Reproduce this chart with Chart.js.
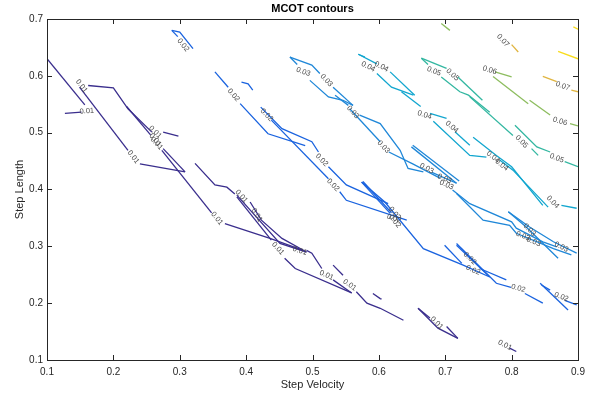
<!DOCTYPE html>
<html>
<head>
<meta charset="utf-8">
<script src="https://cdn.jsdelivr.net/npm/chart.js@4"></script>
<style>
html, body { margin: 0; padding: 0; background: #fff; }
#wrap { width: 602px; height: 403px; }
</style>
</head>
<body>
<div id="wrap"><canvas id="mcot"></canvas></div>
<script>
const xTicks = [0.1, 0.2, 0.3, 0.4, 0.5, 0.6, 0.7, 0.8, 0.9];
const yTicks = [0.1, 0.2, 0.3, 0.4, 0.5, 0.6, 0.7];
const levels = ["0.01", "0.02", "0.03", "0.04", "0.05", "0.06", "0.07", "0.08"];
const levelColors = ["#3a2e8d", "#1a63df", "#1f87d8", "#12a6cf", "#33b7a1", "#8dbd5f", "#e0b540", "#f8dc1c"];

// contour pieces per level, [velocity, length] points
const lines001 = [
    [[0.100, 0.630], [0.157, 0.549]],
    [[0.127, 0.534], [0.152, 0.536]],
    [[0.149, 0.580], [0.222, 0.469]],
    [[0.240, 0.445], [0.308, 0.431]],
    [[0.162, 0.583], [0.200, 0.579], [0.222, 0.542], [0.258, 0.501]],
    [[0.220, 0.546], [0.256, 0.496]],
    [[0.275, 0.501], [0.298, 0.494]],
    [[0.275, 0.472], [0.308, 0.431]],
    [[0.273, 0.469], [0.348, 0.359]],
    [[0.368, 0.340], [0.436, 0.314], [0.486, 0.293]],
    [[0.323, 0.446], [0.353, 0.408], [0.371, 0.404], [0.383, 0.392]],
    [[0.406, 0.378], [0.423, 0.346], [0.454, 0.314], [0.491, 0.290]],
    [[0.386, 0.387], [0.438, 0.311]],
    [[0.386, 0.390], [0.451, 0.305], [0.491, 0.290]],
    [[0.491, 0.293], [0.499, 0.288], [0.514, 0.261]],
    [[0.531, 0.241], [0.559, 0.218]],
    [[0.458, 0.279], [0.474, 0.261], [0.559, 0.218]],
    [[0.531, 0.267], [0.546, 0.249]],
    [[0.566, 0.220], [0.582, 0.200], [0.602, 0.191], [0.637, 0.170]],
    [[0.591, 0.217], [0.602, 0.208], [0.604, 0.207]],
    [[0.659, 0.191], [0.689, 0.156], [0.719, 0.138]],
    [[0.659, 0.191], [0.677, 0.174]],
    [[0.702, 0.159], [0.719, 0.138]],
    [[0.797, 0.121], [0.807, 0.115]]
];
const lines002 = [
    [[0.288, 0.680], [0.300, 0.677], [0.320, 0.648]],
    [[0.288, 0.680], [0.297, 0.669]],
    [[0.353, 0.607], [0.373, 0.580]],
    [[0.391, 0.551], [0.433, 0.498], [0.489, 0.477]],
    [[0.393, 0.589], [0.403, 0.586], [0.410, 0.575]],
    [[0.422, 0.545], [0.454, 0.507], [0.499, 0.484], [0.509, 0.466]],
    [[0.524, 0.440], [0.551, 0.408], [0.614, 0.375]],
    [[0.438, 0.522], [0.524, 0.419]],
    [[0.541, 0.396], [0.551, 0.381], [0.642, 0.346]],
    [[0.574, 0.413], [0.617, 0.358]],
    [[0.576, 0.414], [0.619, 0.359]],
    [[0.574, 0.413], [0.609, 0.378], [0.667, 0.296], [0.727, 0.267], [0.767, 0.246]],
    [[0.699, 0.302], [0.725, 0.270]],
    [[0.717, 0.302], [0.767, 0.246]],
    [[0.717, 0.305], [0.777, 0.235], [0.799, 0.228]],
    [[0.820, 0.217], [0.847, 0.200]],
    [[0.752, 0.261], [0.792, 0.241]],
    [[0.843, 0.235], [0.885, 0.188]],
    [[0.845, 0.232], [0.858, 0.223]],
    [[0.880, 0.205], [0.898, 0.197]]
];
const lines003 = [
    [[0.466, 0.633], [0.499, 0.619], [0.511, 0.604]],
    [[0.531, 0.580], [0.561, 0.548]],
    [[0.466, 0.633], [0.477, 0.620]],
    [[0.496, 0.592], [0.524, 0.563], [0.546, 0.557], [0.561, 0.548]],
    [[0.534, 0.566], [0.554, 0.548]],
    [[0.571, 0.531], [0.602, 0.516], [0.632, 0.469], [0.644, 0.437], [0.667, 0.431]],
    [[0.680, 0.430], [0.717, 0.411]],
    [[0.556, 0.542], [0.602, 0.484]],
    [[0.615, 0.466], [0.651, 0.445], [0.692, 0.420]],
    [[0.649, 0.475], [0.717, 0.411]],
    [[0.651, 0.478], [0.721, 0.415]],
    [[0.711, 0.399], [0.737, 0.375], [0.800, 0.343], [0.807, 0.332], [0.847, 0.308], [0.868, 0.299]],
    [[0.717, 0.393], [0.757, 0.346], [0.797, 0.337], [0.807, 0.323], [0.863, 0.296], [0.890, 0.285]],
    [[0.795, 0.361], [0.822, 0.334], [0.870, 0.279]],
    [[0.795, 0.361], [0.827, 0.334], [0.863, 0.308], [0.898, 0.288]]
];
const lines004 = [
    [[0.569, 0.638], [0.597, 0.621]],
    [[0.617, 0.607], [0.654, 0.566]],
    [[0.569, 0.638], [0.579, 0.633]],
    [[0.597, 0.604], [0.619, 0.580], [0.652, 0.566]],
    [[0.634, 0.572], [0.663, 0.546]],
    [[0.677, 0.534], [0.702, 0.525]],
    [[0.682, 0.520], [0.737, 0.460], [0.762, 0.457]],
    [[0.715, 0.501], [0.737, 0.478]],
    [[0.742, 0.492], [0.777, 0.460], [0.800, 0.440], [0.847, 0.372]],
    [[0.782, 0.452], [0.802, 0.434], [0.855, 0.369]],
    [[0.875, 0.372], [0.898, 0.367]]
];
const lines005 = [
    [[0.664, 0.631], [0.702, 0.613]],
    [[0.719, 0.598], [0.756, 0.557]],
    [[0.664, 0.631], [0.674, 0.620]],
    [[0.694, 0.598], [0.722, 0.572], [0.735, 0.566], [0.767, 0.536]],
    [[0.737, 0.563], [0.802, 0.495]],
    [[0.830, 0.472], [0.840, 0.460]],
    [[0.805, 0.513], [0.838, 0.475], [0.858, 0.466]],
    [[0.880, 0.449], [0.900, 0.440]]
];
const lines006 = [
    [[0.694, 0.692], [0.707, 0.680]],
    [[0.775, 0.607], [0.800, 0.598]],
    [[0.772, 0.599], [0.825, 0.551]],
    [[0.827, 0.557], [0.858, 0.531]],
    [[0.888, 0.516], [0.900, 0.512]]
];
const lines007 = [
    [[0.800, 0.655], [0.810, 0.642]],
    [[0.847, 0.599], [0.868, 0.590]],
    [[0.890, 0.575], [0.900, 0.572]]
];
const lines008 = [
    [[0.893, 0.686], [0.900, 0.682]],
    [[0.870, 0.643], [0.900, 0.630]]
];
const levelLines = [lines001, lines002, lines003, lines004, lines005, lines006, lines007, lines008];

// inline labels: [velocity, length, level index]
const contourLabels = [
    [0.160, 0.538, 0], [0.152, 0.582, 0], [0.230, 0.457, 0], [0.263, 0.501, 0], [0.263, 0.487, 0],
    [0.265, 0.481, 0], [0.356, 0.349, 0], [0.393, 0.388, 0], [0.416, 0.355, 0], [0.448, 0.296, 0],
    [0.481, 0.292, 0], [0.521, 0.249, 0], [0.556, 0.232, 0], [0.687, 0.165, 0], [0.790, 0.126, 0],
    [0.305, 0.654, 1], [0.381, 0.566, 1], [0.431, 0.531, 1], [0.514, 0.452, 1], [0.531, 0.408, 1],
    [0.624, 0.358, 1], [0.623, 0.349, 1], [0.624, 0.344, 1], [0.737, 0.279, 1], [0.742, 0.258, 1],
    [0.810, 0.226, 1], [0.875, 0.211, 1],
    [0.486, 0.607, 2], [0.521, 0.592, 2], [0.561, 0.536, 2], [0.607, 0.475, 2], [0.672, 0.437, 2],
    [0.699, 0.419, 2], [0.702, 0.408, 2], [0.827, 0.329, 2], [0.817, 0.318, 2], [0.833, 0.308, 2],
    [0.875, 0.299, 2],
    [0.584, 0.616, 3], [0.604, 0.616, 3], [0.669, 0.531, 3], [0.710, 0.510, 3], [0.772, 0.457, 3],
    [0.785, 0.443, 3], [0.862, 0.378, 3],
    [0.683, 0.608, 4], [0.711, 0.602, 4], [0.815, 0.484, 4], [0.868, 0.455, 4],
    [0.767, 0.610, 5], [0.873, 0.520, 5],
    [0.787, 0.662, 6], [0.877, 0.582, 6]
];

const fontFamily = '"Liberation Sans", Arial, Helvetica, sans-serif';
const axisColor = "#262626";

var datasets = [];
levelLines.forEach(function (pieces, i) {
    for (piece of pieces) {
        datasets.push({
            data: piece.map(p => ({ x: p[0], y: p[1] })),
            showLine: true,
            borderColor: levelColors[i],
            borderWidth: 1.3,
            pointRadius: 0,
            tension: 0,
            fill: false,
        });
    }
});

// box, inward ticks, titles and contour labels
const decor = {
    id: "decor",
    afterDatasetsDraw(chart) {
        const ctx = chart.ctx;
        const xs = chart.scales.x, ys = chart.scales.y;

        ctx.save();
        ctx.font = "7.5px " + fontFamily;
        ctx.fillStyle = "#4a4a4a";
        ctx.textAlign = "center";
        ctx.textBaseline = "middle";
        for (lab of contourLabels) {
            const px = xs.getPixelForValue(lab[0]);
            const py = ys.getPixelForValue(lab[1]);
            // angle from the closest piece of the same level
            let best = Infinity, ang = 0;
            for (piece of levelLines[lab[2]]) {
                for (let k = 0; k < piece.length - 1; k++) {
                    const ax = xs.getPixelForValue(piece[k][0]), ay = ys.getPixelForValue(piece[k][1]);
                    const bx = xs.getPixelForValue(piece[k + 1][0]), by = ys.getPixelForValue(piece[k + 1][1]);
                    const dx = bx - ax, dy = by - ay;
                    const len2 = dx * dx + dy * dy || 1;
                    let t = ((px - ax) * dx + (py - ay) * dy) / len2;
                    t = Math.max(0, Math.min(1, t));
                    const d = Math.hypot(ax + t * dx - px, ay + t * dy - py);
                    if (d < best) { best = d; ang = Math.atan2(dy, dx); }
                }
            }
            if (ang > Math.PI / 2) ang -= Math.PI;
            if (ang < -Math.PI / 2) ang += Math.PI;
            ctx.save();
            ctx.translate(px, py);
            ctx.rotate(ang);
            ctx.fillText(levels[lab[2]], 0, 0);
            ctx.restore();
        }
        ctx.restore();
    },
    afterDraw(chart) {
        const ctx = chart.ctx;
        const a = chart.chartArea;
        const xs = chart.scales.x, ys = chart.scales.y;
        ctx.save();
        ctx.strokeStyle = axisColor;
        ctx.lineWidth = 1;
        ctx.strokeRect(Math.round(a.left) + 0.5, Math.round(a.top) + 0.5,
            Math.round(a.right - a.left), Math.round(a.bottom - a.top));
        ctx.beginPath();
        for (v of xTicks) {
            const p = Math.round(xs.getPixelForValue(v)) + 0.5;
            ctx.moveTo(p, a.bottom); ctx.lineTo(p, a.bottom - 5);
            ctx.moveTo(p, a.top); ctx.lineTo(p, a.top + 5);
        }
        for (v of yTicks) {
            const p = Math.round(ys.getPixelForValue(v)) + 0.5;
            ctx.moveTo(a.left, p); ctx.lineTo(a.left + 5, p);
            ctx.moveTo(a.right, p); ctx.lineTo(a.right - 5, p);
        }
        ctx.stroke();

        ctx.fillStyle = "#000";
        ctx.textAlign = "center";
        ctx.textBaseline = "middle";
        ctx.font = "bold 11px " + fontFamily;
        ctx.fillText("MCOT contours", (a.left + a.right) / 2, 9);
        ctx.fillStyle = axisColor;
        ctx.font = "11px " + fontFamily;
        ctx.fillText("Step Velocity", (a.left + a.right) / 2, 385);
        ctx.translate(20, (a.top + a.bottom) / 2);
        ctx.rotate(-Math.PI / 2);
        ctx.fillText("Step Length", 0, 0);
        ctx.restore();
    }
};

new Chart(document.getElementById("mcot"), {
    type: "scatter",
    data: { datasets: datasets },
    options: {
        responsive: true,
        maintainAspectRatio: false,
        animation: false,
        layout: { padding: { left: 0, right: 24, top: 19, bottom: 0 } },
        plugins: { legend: { display: false }, tooltip: { enabled: false } },
        scales: {
            x: {
                type: "linear",
                min: 0.1,
                max: 0.9,
                afterBuildTicks: s => { s.ticks = xTicks.map(v => ({ value: v })); },
                afterFit: s => { s.height = 43; },
                ticks: {
                    callback: v => v.toFixed(1),
                    font: { size: 10, family: fontFamily },
                    color: axisColor,
                    padding: 6,
                    maxRotation: 0,
                    autoSkip: false,
                },
                grid: { display: false, drawTicks: false },
                border: { display: false },
            },
            y: {
                type: "linear",
                min: 0.1,
                max: 0.7,
                afterBuildTicks: s => { s.ticks = yTicks.map(v => ({ value: v })); },
                afterFit: s => { s.width = 47; },
                ticks: {
                    callback: v => v.toFixed(1),
                    font: { size: 10, family: fontFamily },
                    color: axisColor,
                    padding: 4,
                    autoSkip: false,
                },
                grid: { display: false, drawTicks: false },
                border: { display: false },
            },
        },
    },
    plugins: [decor],
});
</script>
</body>
</html>
